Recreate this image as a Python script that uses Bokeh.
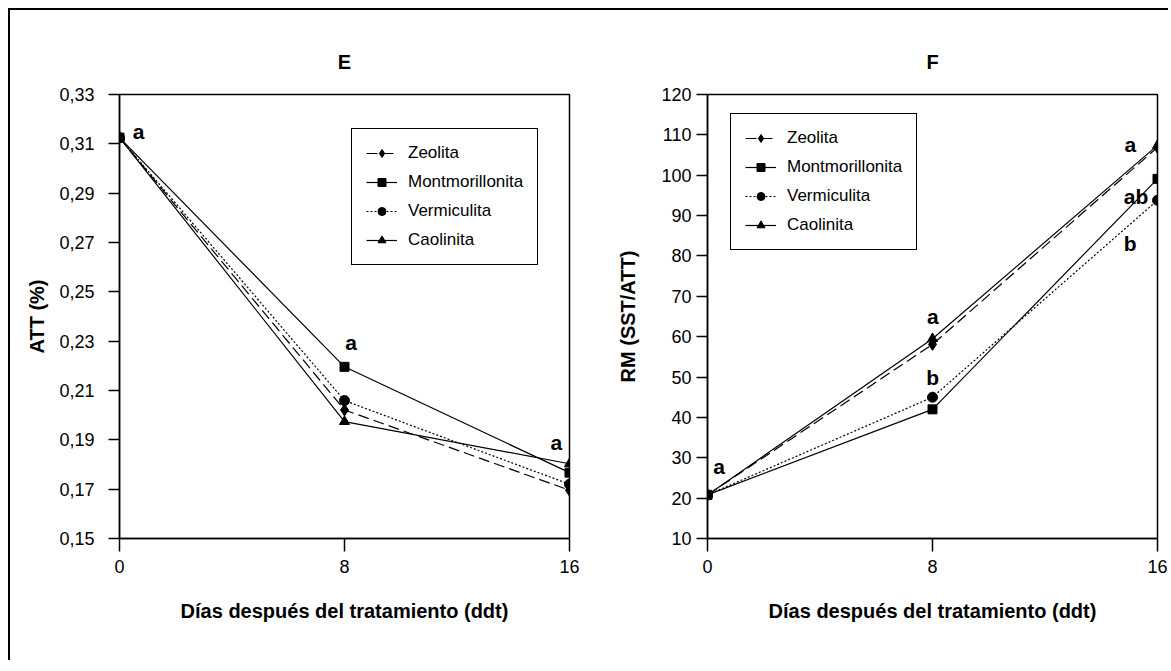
from bokeh.plotting import figure
from bokeh.layouts import row
from bokeh.models import (Range1d, FixedTicker, CustomJSTickFormatter, Legend,
                          LegendItem, Title)
from bokeh.core.properties import value
from bokeh.embed import file_html
from bokeh.resources import INLINE

# ---------------- data ----------------
days = [0, 8, 16]
series = ["Zeolita", "Montmorillonita", "Vermiculita", "Caolinita"]

att_zeolita = [0.3125, 0.2021, 0.1696]
att_montmo = [0.3125, 0.2196, 0.1767]
att_vermic = [0.3125, 0.2059, 0.1720]
att_caolin = [0.3125, 0.1974, 0.1803]

rm_zeolita = [20.8, 58.1, 106.9]
rm_montmo = [20.8, 42.0, 99.1]
rm_vermic = [20.8, 45.0, 93.8]
rm_caolin = [20.8, 59.5, 107.4]

att_ticks = [0.15, 0.17, 0.19, 0.21, 0.23, 0.25, 0.27, 0.29, 0.31, 0.33]
rm_ticks = [10, 20, 30, 40, 50, 60, 70, 80, 90, 100, 110, 120]
day_ticks = [0, 8, 16]

# significance letters (data coordinates)
e_letters = ["a", "a", "a"]
e_letters_x = [0.68, 8.23, 15.53]
e_letters_y = [0.3149, 0.2293, 0.1889]

f_letters = ["a", "a", "b", "a", "ab", "b"]
f_letters_x = [0.41, 8.01, 8.01, 15.03, 15.24, 15.03]
f_letters_y = [27.8, 65.1, 49.8, 107.6, 94.7, 83.0]

# ---------------- style ----------------
FONT = "Liberation Sans"
styles = {
    "Zeolita": dict(dash="11 5", marker="diamond", size=12),
    "Montmorillonita": dict(dash="solid", marker="square", size=9),
    "Vermiculita": dict(dash="2 2", marker="circle", size=10),
    "Caolinita": dict(dash="solid", marker="triangle", size=10),
}


def make_fig(title, ylab, yr, yticks, width, mbl, mbr, fmt=None, ylab_standoff=11,
             ylabel_standoff=15):
    p = figure(width=width, height=650, output_backend="svg", toolbar_location=None,
               x_range=Range1d(0, 16), y_range=Range1d(*yr),
               min_border_left=mbl, min_border_right=mbr,
               min_border_top=84, min_border_bottom=122)
    p.title = Title(text=title, align="center", text_font=FONT, text_color="black",
                    text_font_size="20px", text_font_style="bold", standoff=44)
    p.xgrid.visible = False
    p.ygrid.visible = False
    p.outline_line_color = "black"
    p.outline_line_width = 1.5
    p.outline_line_alpha = 1
    p.background_fill_color = "white"
    p.border_fill_color = "white"
    for ax in (p.xaxis[0], p.yaxis[0]):
        ax.axis_line_width = 1.5
        ax.axis_line_color = "black"
        ax.major_tick_line_color = "black"
        ax.major_tick_line_width = 1.5
        ax.major_tick_in = 0
        ax.minor_tick_line_color = None
        ax.major_label_text_font = FONT
        ax.major_label_text_font_size = "18px"
        ax.major_label_text_color = "black"
        ax.axis_label_text_font = FONT
        ax.axis_label_text_font_size = "20px"
        ax.axis_label_text_font_style = "bold"
        ax.axis_label_text_color = "black"
    p.xaxis.ticker = FixedTicker(ticks=day_ticks)
    p.xaxis.major_tick_out = 13
    p.xaxis.major_label_standoff = 8
    p.xaxis.axis_label = "Días después del tratamiento (ddt)"
    p.xaxis.axis_label_standoff = 24
    p.yaxis.ticker = FixedTicker(ticks=yticks)
    p.yaxis.major_tick_out = 11
    p.yaxis.major_label_standoff = ylabel_standoff
    p.yaxis.axis_label = ylab
    p.yaxis.axis_label_standoff = ylab_standoff
    if fmt is not None:
        p.yaxis.formatter = fmt
    return p


def add_series(p, ys, legend_loc):
    items = []
    for name, y in zip(series, ys):
        st = styles[name]
        lr = p.line(days, y, line_color="black", line_width=1.2, line_dash=st["dash"])
        sr = p.scatter(days, y, marker=st["marker"], size=st["size"],
                       fill_color="black", line_color="black")
        items.append(LegendItem(label=name, renderers=[lr, sr]))
    leg = Legend(items=items, location=legend_loc,
                 label_text_font=FONT, label_text_font_size="17px",
                 label_text_color="black", label_height=20, glyph_height=20,
                 glyph_width=31, label_standoff=11, spacing=9, padding=14,
                 margin=0, border_line_color="black", border_line_width=1,
                 border_line_alpha=1, background_fill_alpha=1)
    p.add_layout(leg, "center")


def add_letters(p, xs, ys, texts):
    p.text(x=xs, y=ys, text=texts, text_font=value(FONT), text_font_size="21px",
           text_font_style="bold", text_align="center", text_baseline="middle",
           text_color="black")


att_fmt = CustomJSTickFormatter(code="return tick.toFixed(2).replace('.', ',');")
pe = make_fig("E", "ATT (%)", (0.15, 0.33), att_ticks, 580, 109, 21, fmt=att_fmt,
              ylab_standoff=8, ylabel_standoff=14)
add_series(pe, [att_zeolita, att_montmo, att_vermic, att_caolin], (232, 273))
add_letters(pe, e_letters_x, e_letters_y, e_letters)

pf = make_fig("F", "RM (SST/ATT)", (10, 120), rm_ticks, 578, 117, 11,
              ylab_standoff=19, ylabel_standoff=5)
add_series(pf, [rm_zeolita, rm_montmo, rm_vermic, rm_caolin], (23, 288))
add_letters(pf, f_letters_x, f_letters_y, f_letters)

layout = row(pe, pf, styles={"border-left": "2px solid black",
                             "border-top": "2px solid black",
                             "margin-left": "8px", "margin-top": "8px"})

open("out.html", "w").write(file_html(layout, INLINE))
